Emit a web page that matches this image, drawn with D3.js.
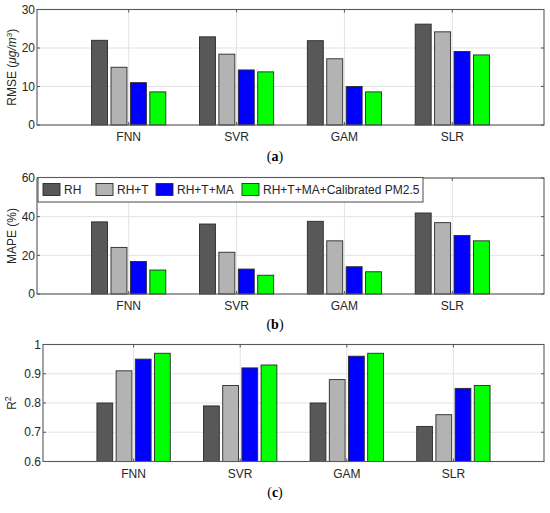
<!DOCTYPE html>
<html>
<head>
<meta charset="utf-8">
<script src="https://cdn.jsdelivr.net/npm/d3@7"></script>
<style>
  body { margin: 0; background: #fff; }
  svg { display: block; }
  text { font-family: "Liberation Sans", Arial, sans-serif; fill: #262626; }
</style>
</head>
<body>
<svg id="chart" width="550" height="513"></svg>
<script>
// models along the x axis, feature sets as series
var models = ["FNN", "SVR", "GAM", "SLR"];
var series = ["RH", "RH+T", "RH+T+MA", "RH+T+MA+Calibrated PM2.5"];
var colors = ["#585858", "#b3b3b3", "#0000ff", "#00ff00"];

// values per series, one entry per model
var rmseRH   = [22.0, 22.9, 21.9, 26.2];
var rmseRHT  = [15.0, 18.4, 17.2, 24.2];
var rmseMA   = [11.0, 14.3, 10.0, 19.1];
var rmseCal  = [8.6, 13.8, 8.6, 18.2];

var mapeRH   = [37.3, 36.2, 37.6, 41.9];
var mapeRHT  = [24.1, 21.6, 27.5, 36.9];
var mapeMA   = [16.8, 12.9, 14.1, 30.3];
var mapeCal  = [12.4, 9.7, 11.5, 27.5];

var r2RH     = [0.80, 0.79, 0.80, 0.72];
var r2RHT    = [0.91, 0.86, 0.88, 0.76];
var r2MA     = [0.95, 0.92, 0.96, 0.85];
var r2Cal    = [0.97, 0.93, 0.97, 0.86];

var rmseTicks = [0, 10, 20, 30];
var mapeTicks = [0, 20, 40, 60];
var r2Ticks   = [0.6, 0.7, 0.8, 0.9, 1];

var svg = d3.select("#chart");

var panels = [
  { left: 37, right: 544, top: 9.5, bottom: 125, domain: [0, 30], ticks: rmseTicks,
    data: [rmseRH, rmseRHT, rmseMA, rmseCal], caption: "a", label: "rmse" },
  { left: 37, right: 544, top: 178, bottom: 294, domain: [0, 60], ticks: mapeTicks,
    data: [mapeRH, mapeRHT, mapeMA, mapeCal], caption: "b", label: "mape", legend: true },
  { left: 43, right: 544, top: 344.5, bottom: 461.5, domain: [0.6, 1], ticks: r2Ticks,
    data: [r2RH, r2RHT, r2MA, r2Cal], caption: "c", label: "r2" }
];

var captionY = [161, 329, 497];

panels.forEach(function(p, pi) {
  var x = d3.scaleLinear().domain([0.15, 4.85]).range([p.left, p.right]);
  var y = d3.scaleLinear().domain(p.domain).range([p.bottom, p.top]);
  var g = svg.append("g");

  // grid
  g.selectAll(".hg").data(p.ticks).enter().append("line")
      .attr("x1", p.left).attr("x2", p.right)
      .attr("y1", function(d) { return y(d); }).attr("y2", function(d) { return y(d); })
      .attr("stroke", "#e3e3e3").attr("stroke-width", 1);
  g.selectAll(".vg").data(models).enter().append("line")
      .attr("x1", function(d, i) { return x(i + 1); }).attr("x2", function(d, i) { return x(i + 1); })
      .attr("y1", p.top).attr("y2", p.bottom)
      .attr("stroke", "#e3e3e3").attr("stroke-width", 1);

  // bars
  var bw = 0.148, step = 0.18;
  p.data.forEach(function(vals, si) {
    g.selectAll(".bar" + si).data(vals).enter().append("rect")
        .attr("x", function(d, i) { return x(i + 1 + (si - 1.5) * step - bw / 2); })
        .attr("width", x(bw) - x(0))
        .attr("y", function(d) { return y(d); })
        .attr("height", function(d) { return y(p.domain[0]) - y(d); })
        .attr("fill", colors[si])
        .attr("stroke", "#2a2a2a").attr("stroke-width", 0.9);
  });

  // ticks inward on all four sides
  var tl = 3;
  p.ticks.forEach(function(t) {
    g.append("line").attr("x1", p.left).attr("x2", p.left + tl)
        .attr("y1", y(t)).attr("y2", y(t)).attr("stroke", "#555");
    g.append("line").attr("x1", p.right).attr("x2", p.right - tl)
        .attr("y1", y(t)).attr("y2", y(t)).attr("stroke", "#555");
  });
  models.forEach(function(m, i) {
    g.append("line").attr("x1", x(i + 1)).attr("x2", x(i + 1))
        .attr("y1", p.bottom).attr("y2", p.bottom - tl).attr("stroke", "#555");
    g.append("line").attr("x1", x(i + 1)).attr("x2", x(i + 1))
        .attr("y1", p.top).attr("y2", p.top + tl).attr("stroke", "#555");
  });

  // box
  g.append("rect")
      .attr("x", p.left).attr("y", p.top)
      .attr("width", p.right - p.left).attr("height", p.bottom - p.top)
      .attr("fill", "none").attr("stroke", "#595959").attr("stroke-width", 1.1);

  // tick labels
  g.selectAll(".yt").data(p.ticks).enter().append("text")
      .attr("x", p.left - 2).attr("y", function(d) { return y(d); })
      .attr("dy", "0.35em").attr("text-anchor", "end")
      .style("font-size", "12px")
      .text(function(d) { return d; });
  g.selectAll(".xt").data(models).enter().append("text")
      .attr("x", function(d, i) { return x(i + 1); }).attr("y", p.bottom + 16)
      .attr("text-anchor", "middle")
      .style("font-size", "12px")
      .text(function(d) { return d; });

  // y axis label
  var cy = (p.top + p.bottom) / 2;
  var lab = g.append("text")
      .attr("transform", "translate(" + 16 + "," + cy + ") rotate(-90)")
      .attr("text-anchor", "middle")
      .style("font-size", "12px");
  if (p.label == "rmse") {
    lab.append("tspan").text("RMSE (");
    lab.append("tspan").style("font-style", "italic").text("μg/m");
    lab.append("tspan").attr("dy", -4).style("font-size", "8px").text("3");
    lab.append("tspan").attr("dy", 4).text(")");
  } else if (p.label == "mape") {
    lab.text("MAPE (%)");
  } else {
    lab.append("tspan").text("R");
    lab.append("tspan").attr("dy", -5).style("font-size", "9px").text("2");
  }

  // legend
  if (p.legend) {
    var lg = g.append("g");
    lg.append("rect").attr("x", 38).attr("y", 177.5).attr("width", 385).attr("height", 24.5)
        .attr("fill", "#fff").attr("stroke", "#595959").attr("stroke-width", 1.1);
    var sx = [43, 96, 156, 242];
    series.forEach(function(s, si) {
      lg.append("rect").attr("x", sx[si]).attr("y", 183.5).attr("width", 17).attr("height", 12)
          .attr("fill", colors[si]).attr("stroke", "#2a2a2a").attr("stroke-width", 0.9);
      lg.append("text").attr("x", sx[si] + 21).attr("y", 189.5).attr("dy", "0.35em")
          .style("font-size", "12px").text(s);
    });
  }

  // caption
  var cap = svg.append("text")
      .attr("x", 275).attr("y", captionY[pi]).attr("text-anchor", "middle")
      .style("font-family", "'Liberation Serif', 'DejaVu Serif', serif")
      .style("font-size", "14px").style("fill", "#000");
  cap.append("tspan").text("(");
  cap.append("tspan").style("font-weight", "bold").text(p.caption);
  cap.append("tspan").text(")");
});
</script>
</body>
</html>
